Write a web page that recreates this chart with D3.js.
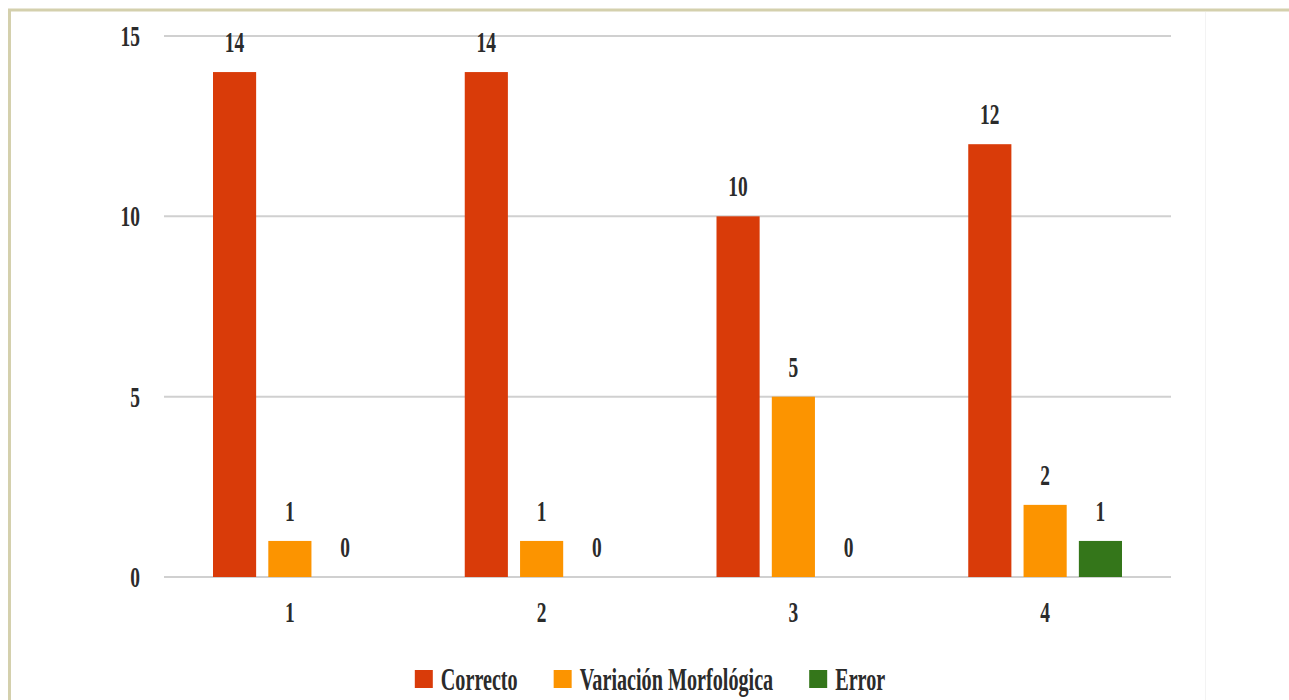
<!DOCTYPE html>
<html>
<head>
<meta charset="utf-8">
<script src="https://cdn.jsdelivr.net/npm/d3@7"></script>
<style>
  html, body { margin: 0; padding: 0; background: #fff; }
  svg text { font-family: "Liberation Serif", "DejaVu Serif", serif; font-weight: bold; fill: #2b2b2b; }
</style>
</head>
<body>
<svg id="chart"></svg>
<script>
// datos
const categories = ['1', '2', '3', '4'];
const seriesNames = ['Correcto', 'Variación Morfológica', 'Error'];
const correcto = [14, 14, 10, 12];
const variacion = [1, 1, 5, 2];
const error = [0, 0, 0, 1];
const yTicks = [0, 5, 10, 15];
const colors = ['#d93b09', '#fc9400', '#34761a'];

const W = 1289, H = 700;
const svg = d3.select('#chart').attr('width', W).attr('height', H);
const SX = 0.72, SY = 1.12; // letras estrechas y altas

// marco
svg.append('rect').attr('x', 9.5).attr('y', 10).attr('width', W).attr('height', H)
    .attr('fill', 'none').attr('stroke', '#d4d0ad').attr('stroke-width', 3);
svg.append('line').attr('x1', 1205.5).attr('x2', 1205.5).attr('y1', 12).attr('y2', H)
    .attr('stroke', '#f3f3f3').attr('stroke-width', 1);

const x0 = d3.scaleBand().domain(categories).range([164, 1171]).paddingInner(0).paddingOuter(0);
const x1 = d3.scaleBand().domain(seriesNames).range([49, x0.bandwidth() - 49]).paddingInner(0.22);
const y = d3.scaleLinear().domain([0, 15]).range([577, 36]);

// texto estrecho
function label(g, tx, ty, str, anchor, size) {
    return g.append('text')
        .attr('transform', 'translate(' + tx + ',' + ty + ') scale(' + SX + ',' + SY + ')')
        .attr('text-anchor', anchor)
        .attr('font-size', size)
        .text(str);
}

// rejilla
const grid = svg.append('g');
yTicks.forEach(function(t) {
    grid.append('line')
        .attr('x1', 164).attr('x2', 1171)
        .attr('y1', y(t)).attr('y2', y(t))
        .attr('stroke', '#d0d0d0').attr('stroke-width', 2);
    label(grid, 140, y(t) + 10, t, 'end', 27);
});

// barras
const rows = categories.map(function(c, i) {
    return { cat: c, vals: [correcto[i], variacion[i], error[i]] };
});
const groups = svg.selectAll('g.grupo').data(rows).enter().append('g')
    .attr('class', 'grupo')
    .attr('transform', function(d) { return 'translate(' + x0(d.cat) + ',0)'; });

groups.each(function(d) {
    const g = d3.select(this);
    d.vals.forEach(function(v, k) {
        const bx = x1(seriesNames[k]);
        if (v > 0) {
            g.append('rect')
                .attr('x', bx).attr('y', y(v))
                .attr('width', x1.bandwidth()).attr('height', y(0) - y(v))
                .attr('fill', colors[k]);
        }
        label(g, bx + x1.bandwidth() / 2, y(v) - 20, v, 'middle', 27);
    });
    label(g, x0.bandwidth() / 2, 622, d.cat, 'middle', 27);
});

// leyenda
const legend = svg.append('g');
let cx = 0;
seriesNames.forEach(function(n, k) {
    legend.append('rect').attr('x', cx).attr('y', 670).attr('width', 18).attr('height', 18)
        .attr('fill', colors[k]);
    const t = label(legend, cx + 26, 690, n, 'start', 28);
    cx += 26 + t.node().getComputedTextLength() * SX + 36;
});
const total = cx - 36;
legend.attr('transform', 'translate(' + (650 - total / 2) + ',0)');
</script>
</body>
</html>
